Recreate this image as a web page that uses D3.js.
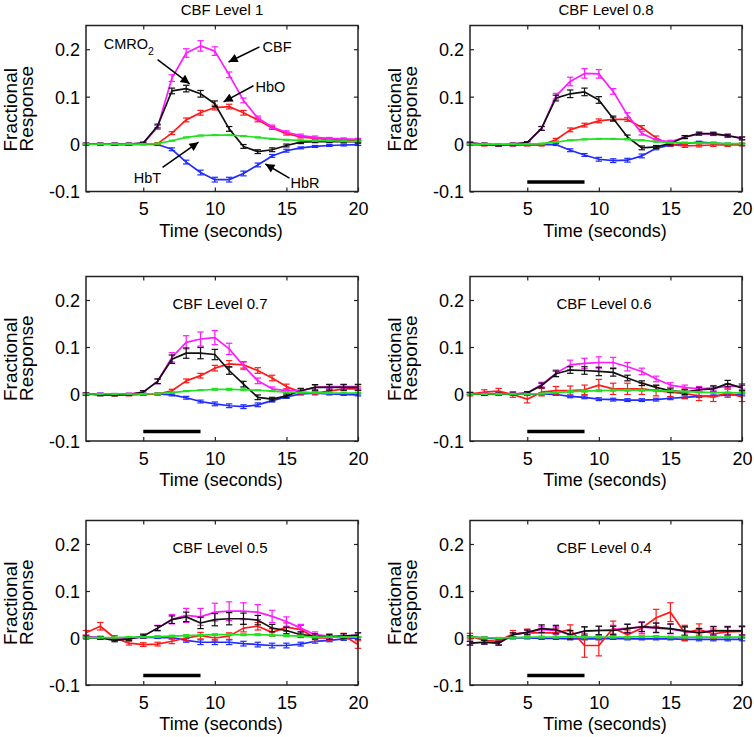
<!DOCTYPE html>
<html><head><meta charset="utf-8">
<script src="https://cdn.jsdelivr.net/npm/d3@7"></script>
<style>
body{margin:0;background:#fff}
svg{display:block}
text{font-family:"Liberation Sans",Arial,Helvetica,sans-serif;fill:#000}
</style>
</head><body>
<svg id="chart" width="754" height="737"></svg>
<script>
// ---------------- DATA ----------------
const time = [1,2,3,4,5,6,7,8,9,10,11,12,13,14,15,16,17,18,19,20];
const panelTitles = ["CBF Level 1","CBF Level 0.8","CBF Level 0.7","CBF Level 0.6","CBF Level 0.5","CBF Level 0.4"];
const xTicks = [5,10,15,20];
const yTicks = [-0.1,0,0.1,0.2];
const xDomain = [1,20];
const yDomain = [-0.1,0.25];
const stimulusWindow = [5,9];
const stimulusLevel = -0.08;
const xLabel = "Time (seconds)";
const yLabelLines = ["Fractional","Response"];

// one row per panel (Level 1, 0.8, 0.7, 0.6, 0.5, 0.4)
const CBF = [
 [0,0,0,0,0.002,0.035,0.139,0.192,0.207,0.196,0.146,0.092,0.055,0.036,0.025,0.018,0.014,0.012,0.011,0.010],
 [0.002,0,-0.002,0,0.003,0.033,0.101,0.132,0.149,0.148,0.111,0.061,0.023,0.008,0.005,0.014,0.022,0.021,0.017,0.012],
 [0,0,-0.001,0,0.004,0.027,0.078,0.110,0.117,0.120,0.096,0.060,0.028,0.011,0.007,0.007,0.014,0.016,0.016,0.016],
 [0.001,0,0,0,0.002,0.020,0.044,0.062,0.065,0.067,0.067,0.058,0.048,0.032,0.019,0.014,0.011,0.013,0.016,0.016],
 [0.003,0.001,-0.003,-0.002,0.004,0.021,0.040,0.048,0.045,0.055,0.057,0.057,0.055,0.046,0.035,0.021,0.007,0.004,0.004,0.006],
 [-0.011,-0.009,-0.011,0.007,0.012,0.018,0.016,0.007,0.014,0.016,0.018,0.021,0.023,0.021,0.019,0.014,0.012,0.016,0.016,0.016]
];
const CBF_ERR = [
 [0.002,0.002,0.002,0.002,0.002,0.004,0.007,0.009,0.011,0.009,0.006,0.005,0.004,0.004,0.003,0.003,0.003,0.002,0.002,0.002],
 [0.002,0.002,0.002,0.002,0.002,0.004,0.006,0.009,0.010,0.009,0.006,0.005,0.004,0.003,0.003,0.003,0.003,0.003,0.003,0.003],
 [0.002,0.002,0.002,0.002,0.003,0.005,0.010,0.014,0.015,0.015,0.012,0.008,0.006,0.004,0.003,0.004,0.005,0.005,0.005,0.005],
 [0.002,0.002,0.002,0.002,0.003,0.005,0.007,0.010,0.011,0.012,0.011,0.009,0.007,0.006,0.005,0.005,0.005,0.005,0.006,0.006],
 [0.003,0.003,0.003,0.003,0.004,0.006,0.010,0.015,0.018,0.019,0.020,0.018,0.016,0.013,0.010,0.008,0.006,0.005,0.005,0.005],
 [0.004,0.004,0.004,0.004,0.005,0.007,0.008,0.008,0.009,0.009,0.009,0.009,0.010,0.010,0.010,0.009,0.009,0.009,0.009,0.009]
];
const CMRO2 = [
 [0,0,0,0,0.002,0.038,0.112,0.117,0.106,0.085,0.032,-0.005,-0.016,-0.012,-0.003,0.004,0.005,0.005,0.005,0.005],
 [0.002,0,-0.002,0,0.003,0.033,0.097,0.106,0.110,0.093,0.054,0.015,-0.008,-0.006,0.001,0.015,0.022,0.022,0.018,0.012],
 [0,-0.002,-0.002,-0.001,0.004,0.027,0.074,0.087,0.087,0.084,0.050,0.021,-0.007,-0.011,-0.004,0.007,0.014,0.014,0.014,0.014],
 [0.001,-0.001,0,0,0.002,0.018,0.043,0.051,0.050,0.048,0.046,0.034,0.023,0.014,0.007,0.004,0.009,0.011,0.022,0.013],
 [0.001,0,-0.005,-0.002,0.004,0.021,0.039,0.045,0.032,0.039,0.041,0.041,0.038,0.021,0.016,0.007,0.004,0.002,0.004,0.006],
 [-0.011,-0.009,-0.011,0.007,0.012,0.020,0.018,0.007,0.015,0.016,0.016,0.020,0.024,0.022,0.020,0.015,0.011,0.015,0.015,0.015]
];
const CMRO2_ERR = [
 [0.002,0.002,0.002,0.002,0.002,0.004,0.006,0.007,0.007,0.006,0.005,0.004,0.004,0.004,0.003,0.003,0.002,0.002,0.002,0.002],
 [0.002,0.002,0.002,0.002,0.002,0.004,0.006,0.008,0.008,0.007,0.005,0.004,0.004,0.003,0.003,0.003,0.003,0.003,0.003,0.003],
 [0.002,0.002,0.002,0.002,0.003,0.005,0.009,0.011,0.012,0.011,0.008,0.006,0.005,0.004,0.004,0.005,0.006,0.006,0.006,0.006],
 [0.002,0.002,0.002,0.002,0.003,0.005,0.006,0.007,0.008,0.009,0.008,0.006,0.005,0.005,0.004,0.005,0.005,0.006,0.007,0.006],
 [0.003,0.003,0.003,0.003,0.004,0.005,0.008,0.010,0.012,0.013,0.013,0.012,0.010,0.008,0.007,0.006,0.005,0.005,0.005,0.005],
 [0.004,0.004,0.004,0.004,0.005,0.008,0.009,0.009,0.009,0.009,0.009,0.009,0.010,0.010,0.010,0.009,0.009,0.009,0.009,0.009]
];
const HbO = [
 [0,0,0,0,0,0.001,0.023,0.051,0.066,0.077,0.079,0.066,0.051,0.034,0.022,0.015,0.012,0.010,0.008,0.008],
 [-0.001,-0.002,-0.002,-0.002,-0.002,-0.002,0.009,0.030,0.040,0.049,0.052,0.052,0.035,0.013,-0.001,-0.004,-0.003,-0.002,-0.002,-0.001],
 [0,-0.001,-0.002,-0.002,-0.001,0,0.007,0.028,0.039,0.055,0.064,0.062,0.050,0.034,0.016,0.004,0.002,0.006,0.011,0.011],
 [0,0.004,0.006,-0.001,-0.011,0.004,0.007,0.007,0.009,0.019,0.011,0.011,0.011,0.007,0.004,0.001,-0.004,-0.006,0.002,-0.006],
 [0.011,0.025,0,-0.011,-0.014,-0.013,-0.007,0,0.005,0,0.004,0.021,0.025,0.012,0.023,0.018,0,0,0.005,-0.014],
 [0.004,-0.005,-0.007,0.009,0.011,0.011,0.011,0.018,-0.016,-0.016,0.021,0.007,0.021,0.043,0.055,0.011,0.018,0.009,0.013,0.014]
];
const HbO_ERR = [
 [0.001,0.001,0.001,0.001,0.001,0.002,0.003,0.004,0.005,0.005,0.005,0.005,0.004,0.003,0.003,0.002,0.002,0.002,0.002,0.002],
 [0.002,0.002,0.002,0.002,0.002,0.002,0.003,0.004,0.004,0.004,0.004,0.004,0.004,0.004,0.003,0.003,0.003,0.003,0.003,0.003],
 [0.002,0.002,0.002,0.002,0.002,0.002,0.003,0.004,0.005,0.006,0.007,0.007,0.006,0.006,0.005,0.004,0.004,0.004,0.004,0.004],
 [0.004,0.005,0.006,0.006,0.008,0.008,0.009,0.010,0.010,0.012,0.012,0.012,0.012,0.011,0.010,0.010,0.010,0.010,0.009,0.010],
 [0.005,0.008,0.005,0.004,0.004,0.004,0.005,0.006,0.007,0.007,0.007,0.008,0.008,0.008,0.009,0.009,0.007,0.006,0.005,0.008],
 [0.006,0.007,0.008,0.007,0.008,0.010,0.010,0.010,0.025,0.022,0.015,0.010,0.012,0.018,0.020,0.016,0.012,0.010,0.010,0.012]
];
const HbT = [
 [0,0,0,0,0,0.001,0.007,0.014,0.018,0.019,0.019,0.017,0.014,0.011,0.009,0.008,0.007,0.007,0.006,0.006],
 [0,0,0,0,0,0.001,0.004,0.008,0.010,0.011,0.011,0.010,0.008,0.005,0.003,0.003,0.002,0.002,0.001,0.001],
 [0,0,0,0,0,0.001,0.003,0.006,0.008,0.010,0.010,0.009,0.008,0.006,0.004,0.003,0.003,0.002,0.002,0.002],
 [0,0,0,0,0,0.001,0.003,0.005,0.006,0.007,0.008,0.008,0.008,0.007,0.006,0.005,0.004,0.003,0.003,0.002],
 [0.001,0.001,0.001,0.002,0.002,0.003,0.004,0.005,0.006,0.007,0.007,0.007,0.007,0.006,0.005,0.004,0.002,0.002,0.002,0.002],
 [0.002,0.001,0,0.001,0.002,0.002,0.002,0.003,0.002,0.002,0.002,0.002,0.003,0.003,0.002,0.002,0.002,0.002,0.002,0.002]
];
const HbT_ERR = [
 [0.001,0.001,0.001,0.001,0.001,0.001,0.001,0.001,0.001,0.001,0.001,0.001,0.001,0.001,0.001,0.001,0.001,0.001,0.001,0.001],
 [0.001,0.001,0.001,0.001,0.001,0.001,0.001,0.001,0.001,0.001,0.001,0.001,0.001,0.001,0.001,0.001,0.001,0.001,0.001,0.001],
 [0.001,0.001,0.001,0.001,0.001,0.001,0.001,0.001,0.001,0.002,0.002,0.002,0.001,0.001,0.001,0.001,0.001,0.001,0.001,0.001],
 [0.001,0.001,0.001,0.001,0.001,0.001,0.001,0.002,0.002,0.002,0.002,0.002,0.002,0.002,0.001,0.001,0.001,0.001,0.001,0.001],
 [0.001,0.001,0.001,0.001,0.001,0.002,0.002,0.002,0.002,0.002,0.002,0.002,0.002,0.002,0.002,0.002,0.002,0.001,0.001,0.001],
 [0.001,0.001,0.001,0.001,0.002,0.002,0.002,0.002,0.002,0.002,0.002,0.002,0.002,0.002,0.002,0.002,0.002,0.002,0.002,0.002]
];
const HbR = [
 [0,0,-0.001,-0.001,0,-0.001,-0.011,-0.038,-0.060,-0.075,-0.075,-0.062,-0.044,-0.025,-0.014,-0.008,-0.005,-0.003,-0.002,-0.001],
 [0,-0.001,-0.002,-0.002,-0.001,-0.001,-0.001,-0.013,-0.023,-0.032,-0.035,-0.034,-0.025,-0.009,-0.002,0.001,0.004,0.002,0,-0.001],
 [0,0,-0.001,-0.001,0,0,-0.002,-0.008,-0.016,-0.021,-0.025,-0.027,-0.023,-0.014,-0.006,0,0.002,0,-0.001,-0.002],
 [0.001,0,0,0,0,0,-0.001,-0.005,-0.007,-0.011,-0.012,-0.013,-0.013,-0.012,-0.009,-0.007,-0.005,-0.004,-0.002,-0.002],
 [0.003,0.001,-0.003,-0.001,0.002,0.001,0.001,-0.005,-0.009,-0.009,-0.009,-0.012,-0.014,-0.016,-0.016,-0.013,-0.007,-0.005,-0.002,0],
 [0.003,0,-0.002,0,0,-0.001,-0.001,-0.002,-0.002,-0.002,-0.001,-0.002,-0.002,-0.002,-0.002,-0.003,-0.003,-0.003,-0.003,-0.003]
];
const HbR_ERR = [
 [0.001,0.001,0.001,0.001,0.001,0.002,0.003,0.004,0.005,0.005,0.005,0.005,0.004,0.003,0.003,0.002,0.002,0.002,0.002,0.002],
 [0.002,0.002,0.002,0.002,0.002,0.002,0.002,0.003,0.003,0.004,0.004,0.004,0.004,0.003,0.003,0.002,0.002,0.002,0.002,0.002],
 [0.002,0.002,0.002,0.002,0.002,0.002,0.002,0.003,0.003,0.004,0.004,0.004,0.004,0.003,0.003,0.002,0.002,0.002,0.002,0.002],
 [0.002,0.002,0.002,0.002,0.002,0.002,0.002,0.003,0.003,0.003,0.003,0.003,0.003,0.003,0.003,0.003,0.002,0.002,0.002,0.002],
 [0.002,0.002,0.002,0.002,0.002,0.002,0.003,0.004,0.005,0.005,0.005,0.005,0.005,0.005,0.005,0.004,0.004,0.003,0.003,0.003],
 [0.002,0.002,0.002,0.002,0.002,0.002,0.002,0.002,0.002,0.002,0.002,0.002,0.002,0.002,0.002,0.003,0.003,0.003,0.003,0.003]
];

// annotations for the first panel (data coordinates)
const annotations = [
 {label:"CMRO", sub:"2", tx:2.24, ty:0.201, x1:6.0,  y1:0.178, x2:8.24,  y2:0.127},
 {label:"CBF",  sub:"",  tx:13.33,ty:0.195, x1:13.12,y1:0.205, x2:10.96, y2:0.173},
 {label:"HbO",  sub:"",  tx:12.84,ty:0.110, x1:12.70,y1:0.123, x2:10.61, y2:0.089},
 {label:"HbT",  sub:"",  tx:4.33, ty:-0.082,x1:6.35, y1:-0.049,x2:8.86,  y2:0.004},
 {label:"HbR",  sub:"",  tx:15.28,ty:-0.093,x1:15.21,y1:-0.072,x2:13.53, y2:-0.042}
];

// ---------------- LAYOUT / STYLE ----------------
const series = [
 {vals:HbR,   errs:HbR_ERR,   color:"#1f2bff"},
 {vals:HbO,   errs:HbO_ERR,   color:"#ff1a1a"},
 {vals:CBF,   errs:CBF_ERR,   color:"#ff1aff"},
 {vals:CMRO2, errs:CMRO2_ERR, color:"#111111"},
 {vals:HbT,   errs:HbT_ERR,   color:"#22e022"}
];
const boxes = [
 {l:86, r:358, t:25.5, b:191.5},
 {l:470,r:742, t:25.5, b:191.5},
 {l:86, r:358, t:276.5,b:441},
 {l:470,r:742, t:276.5,b:441},
 {l:86, r:358, t:520.5,b:685},
 {l:470,r:742, t:520.5,b:685}
];

const svg = d3.select("#chart");
svg.append("defs").append("marker")
  .attr("id","ah").attr("viewBox","0 0 10 10").attr("refX",10).attr("refY",5)
  .attr("markerWidth",11).attr("markerHeight",9).attr("markerUnits","userSpaceOnUse")
  .attr("orient","auto")
  .append("path").attr("d","M0,0 L10,5 L0,10 z").attr("fill","#000");

boxes.forEach((bx, p) => {
  const g = svg.append("g");
  const x = d3.scaleLinear().domain(xDomain).range([bx.l, bx.r]);
  const y = d3.scaleLinear().domain(yDomain).range([bx.b, bx.t]);

  // axes with inward ticks
  const fmt = d => d === 0 ? "0" : String(d);
  const axB = g.append("g").attr("transform",`translate(0,${bx.b})`)
    .call(d3.axisBottom(x).tickValues(xTicks).tickSize(-4).tickPadding(11).tickFormat(fmt));
  const axT = g.append("g").attr("transform",`translate(0,${bx.t})`)
    .call(d3.axisTop(x).tickValues(xTicks).tickSize(-4).tickFormat(""));
  const axL = g.append("g").attr("transform",`translate(${bx.l},0)`)
    .call(d3.axisLeft(y).tickValues(yTicks).tickSize(-4).tickPadding(6).tickFormat(fmt));
  const axR = g.append("g").attr("transform",`translate(${bx.r},0)`)
    .call(d3.axisRight(y).tickValues(yTicks).tickSize(-4).tickFormat(""));
  [axB,axT,axL,axR].forEach(a => {
    a.select(".domain").remove();
    a.selectAll(".tick line").attr("stroke","#222").attr("stroke-width",1.2);
    a.selectAll("text").style("font-size","18px").attr("fill","#000");
  });
  axL.selectAll("text").attr("dy","0.36em");

  // stimulus bar
  if (p > 0) {
    g.append("line")
      .attr("x1", x(stimulusWindow[0])).attr("x2", x(stimulusWindow[1]))
      .attr("y1", y(stimulusLevel)).attr("y2", y(stimulusLevel))
      .attr("stroke","#000").attr("stroke-width",3.5);
  }

  // series
  const line = d3.line().x((d,i) => x(time[i])).y(d => y(d));
  series.forEach(s => {
    const vals = s.vals[p], errs = s.errs[p];
    const eg = g.append("g").attr("stroke", s.color).attr("stroke-width",1.2).attr("fill","none");
    vals.forEach((v,i) => {
      const cx = x(time[i]), y0 = y(v - errs[i]), y1 = y(v + errs[i]);
      eg.append("line").attr("x1",cx).attr("x2",cx).attr("y1",y0).attr("y2",y1);
      eg.append("line").attr("x1",cx-3.2).attr("x2",cx+3.2).attr("y1",y0).attr("y2",y0);
      eg.append("line").attr("x1",cx-3.2).attr("x2",cx+3.2).attr("y1",y1).attr("y2",y1);
    });
    g.append("path").datum(vals).attr("d", line)
      .attr("fill","none").attr("stroke", s.color).attr("stroke-width",1.7)
      .attr("stroke-linejoin","round");
  });

  // box
  g.append("rect").attr("x",bx.l).attr("y",bx.t)
    .attr("width",bx.r-bx.l).attr("height",bx.b-bx.t)
    .attr("fill","none").attr("stroke","#222").attr("stroke-width",1.5);

  // title
  const cx = (bx.l + bx.r)/2;
  if (p < 2) {
    g.append("text").attr("x",cx).attr("y",15).attr("text-anchor","middle")
      .style("font-size","15px").text(panelTitles[p]);
  } else {
    g.append("text").attr("x",cx-2).attr("y",bx.t+32.5).attr("text-anchor","middle")
      .style("font-size","15px").text(panelTitles[p]);
  }

  // axis labels
  g.append("text").attr("x",cx-1).attr("y",bx.b+45).attr("text-anchor","middle")
    .style("font-size","18px").text(xLabel);
  yLabelLines.forEach((t,k) => {
    const lx = bx.l - 69 + k*16;
    g.append("text").attr("transform",`translate(${lx},${bx.b-40}) rotate(-90)`)
      .attr("text-anchor","start").style("font-size","19px").text(t);
  });

  // annotations on first panel
  if (p === 0) {
    annotations.forEach(a => {
      g.append("line").attr("x1",x(a.x1)).attr("y1",y(a.y1)).attr("x2",x(a.x2)).attr("y2",y(a.y2))
        .attr("stroke","#000").attr("stroke-width",1.5).attr("marker-end","url(#ah)");
      const t = g.append("text").attr("x",x(a.tx)).attr("y",y(a.ty)).style("font-size","14.5px");
      t.append("tspan").text(a.label);
      if (a.sub) t.append("tspan").attr("dy",6).style("font-size","10.5px").text(a.sub);
    });
  }
});
</script>
</body></html>
